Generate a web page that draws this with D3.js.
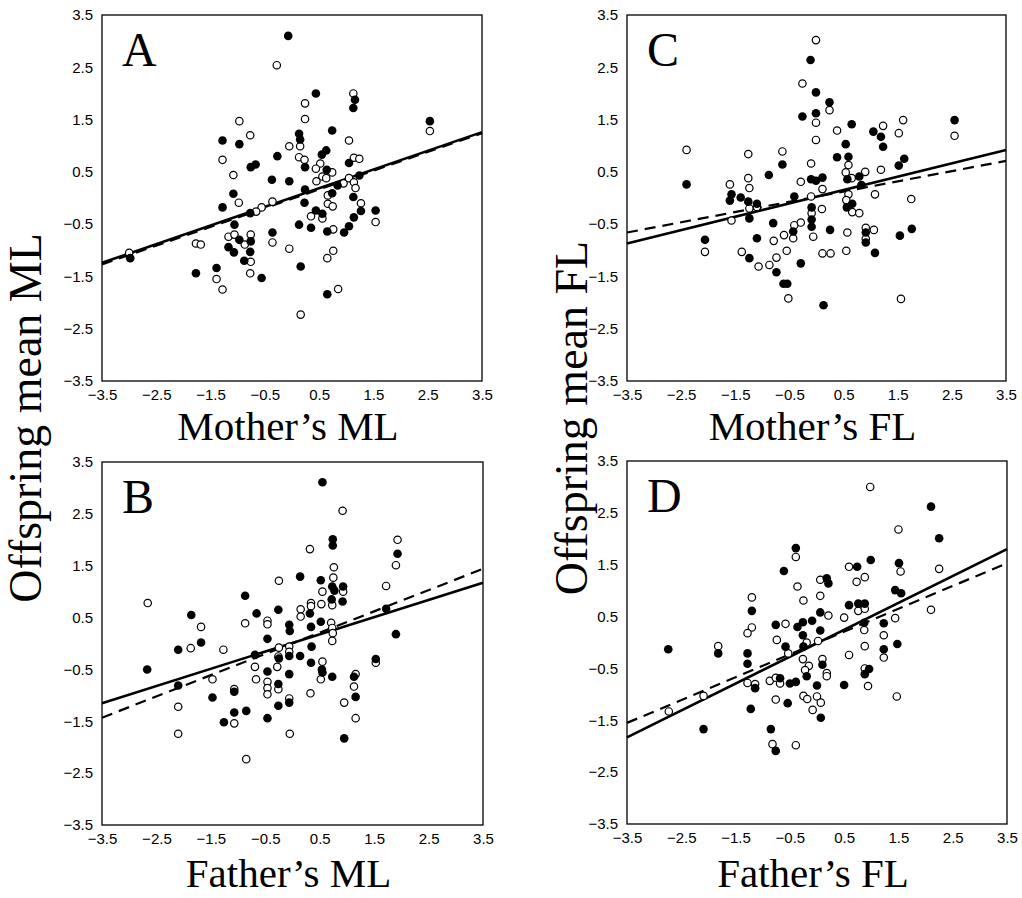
<!DOCTYPE html>
<html>
<head>
<meta charset="utf-8">
<script src="https://cdnjs.cloudflare.com/ajax/libs/d3/7.8.5/d3.min.js"></script>
<style>
  body { margin: 0; background: #fff; }
  .tick text { font-family: "Liberation Sans", Arial, sans-serif; font-size: 15px; fill: #000; }
  .title { font-family: "Liberation Serif", "Times New Roman", serif; fill: #000; }
</style>
</head>
<body>
<div id="graphic"></div>
<script>
/*** DATA ***/
var tickValues = [-3.5, -2.5, -1.5, -0.5, 0.5, 1.5, 2.5, 3.5];
var panelLetters = ["A", "B", "C", "D"];
var xTitles = ["Mother\u2019s ML", "Father\u2019s ML", "Mother\u2019s FL", "Father\u2019s FL"];
var yTitles = ["Offspring mean ML", "Offspring mean FL"];

// [parent value, offspring mean] -- filled and open circles
var aFilled = [[-0.07,3.10],[0.44,2.00],[1.16,1.88],[1.13,1.72],[2.54,1.47],[-1.28,1.10],[-0.97,1.03],[0.74,1.29],[0.13,1.23],[0.15,1.12],[0.63,0.91],[0.55,0.83],[-0.27,0.80],[-0.76,0.59],[-0.67,0.64],[0.24,0.59],[0.64,0.54],[1.05,0.67],[-0.37,0.35],[-0.05,0.32],[0.24,0.16],[0.84,0.24],[1.24,0.43],[-1.08,0.08],[0.74,0.09],[1.13,0.02],
  [-1.28,-0.18],[-0.77,-0.29],[0.23,-0.09],[0.44,-0.24],[0.56,-0.30],[1.27,-0.25],[1.54,-0.24],[1.14,-0.37],[1.05,-0.54],[0.96,-0.66],[0.65,-0.64],[0.13,-0.51],[0.35,-0.57],[-0.36,-0.66],[-1.06,-0.51],[-0.97,-0.80],[-0.76,-0.83],[-1.17,-0.94],[-1.07,-1.04],[-0.77,-1.03],[-0.88,-1.20],[0.16,-1.31],[-2.98,-1.15],[-1.77,-1.44],[-1.39,-1.34],[-0.56,-1.53],[0.65,-1.84]];
var aOpen = [[-0.28,2.54],[1.13,2.00],[0.24,1.81],[0.24,1.51],[-0.97,1.47],[2.54,1.28],[-0.77,1.20],[-0.05,0.99],[0.15,0.99],[1.05,1.10],[-1.28,0.73],[0.13,0.78],[0.23,0.73],[0.52,0.66],[0.44,0.56],[0.74,0.49],[1.14,0.77],[1.24,0.75],[-1.08,0.44],[0.45,0.32],[0.56,0.41],[0.63,0.38],[0.95,0.28],[1.05,0.38],[1.14,0.30],[1.17,0.19],[0.66,0.05],
  [-0.98,-0.09],[-0.56,-0.18],[-0.36,-0.07],[-0.66,-0.26],[0.35,-0.35],[0.56,-0.39],[0.66,-0.11],[0.75,-0.16],[1.27,-0.10],[1.54,-0.46],[0.76,-0.60],[-0.36,-0.85],[-1.17,-0.74],[-1.06,-0.70],[-0.87,-0.89],[-0.76,-0.70],[-1.77,-0.87],[-1.68,-0.89],[-0.05,-0.97],[0.76,-1.01],[0.65,-1.15],[-0.76,-1.22],[-3.0,-1.05],[-1.39,-1.55],[-1.28,-1.75],[-0.77,-1.44],[0.85,-1.74],[0.16,-2.23]];

var bFilled = [[0.55,3.11],[0.74,2.01],[0.74,1.89],[1.93,1.73],[0.14,1.29],[0.52,1.22],[0.73,1.10],[0.93,1.10],[0.77,1.02],[-0.87,0.92],[0.72,0.85],[0.92,0.81],[-0.26,0.65],[0.32,0.58],[-0.66,0.58],[1.72,0.67],[-1.86,0.55],[-0.06,0.36],[-0.05,0.24],[0.34,0.32],[0.52,0.42],[1.90,0.18],[-1.68,0.02],[-0.46,0.09],[0.35,-0.06],[-2.10,-0.12],
  [-2.67,-0.50],[-2.10,-0.81],[-1.47,-1.04],[-1.07,-0.93],[-1.07,-1.33],[-1.26,-1.52],[-0.85,-1.30],[-0.69,-0.22],[-0.46,-0.54],[-0.46,-1.44],[-0.25,-0.29],[-0.26,-0.78],[-0.26,-1.20],[-0.06,-0.24],[-0.06,-0.59],[-0.06,-1.14],[0.14,-0.24],[0.34,-0.37],[0.54,-0.50],[0.55,-0.56],[0.73,-0.64],[0.95,-1.83],[1.13,-0.64],[1.16,-1.03],[1.53,-0.30]];
var bOpen = [[0.92,2.56],[1.93,2.00],[1.90,1.51],[0.32,1.82],[0.76,1.47],[0.75,1.27],[-0.25,1.21],[1.72,1.11],[0.93,1.00],[0.55,1.00],[-2.66,0.78],[0.34,0.78],[0.53,0.76],[0.73,0.74],[0.34,0.72],[0.15,0.66],[0.15,0.52],[-1.68,0.32],[-0.87,0.39],[-0.46,0.44],[-0.46,0.37],[0.71,0.40],[0.73,0.30],[0.74,0.20],[0.73,0.05],[-0.25,-0.08],[-0.06,-0.06],[-1.87,-0.09],[-1.27,-0.12],
  [-2.10,-1.22],[-2.10,-1.74],[-1.47,-0.69],[-1.07,-0.88],[-1.07,-1.54],[-0.85,-2.23],[-0.69,-0.45],[-0.67,-0.69],[-0.46,-0.74],[-0.46,-0.86],[-0.46,-0.98],[-0.26,-0.25],[-0.28,-0.45],[-0.26,-0.88],[-0.06,-0.16],[-0.06,-1.06],[-0.05,-1.74],[0.33,-0.96],[0.55,-0.35],[0.52,-0.69],[0.95,-1.14],[1.16,-0.59],[1.13,-0.83],[1.16,-1.44],[1.53,-0.37]];

var cFilled = [[-0.11,2.64],[-0.01,2.02],[0.24,1.83],[-0.26,1.56],[-0.01,1.62],[0.65,1.41],[2.55,1.49],[1.05,1.27],[1.19,1.17],[1.23,0.98],[0.54,1.03],[-0.63,0.64],[0.38,0.78],[0.59,0.79],[1.62,0.75],[1.52,0.62],[-0.88,0.44],[-2.40,0.26],[-0.10,0.36],[-0.01,0.33],[0.11,0.39],[0.57,0.36],[0.79,0.41],[0.83,0.25],[-1.57,0.07],[-1.40,0.01],[-0.41,0.03],
  [-1.60,-0.05],[-1.26,-0.07],[-1.10,-0.11],[-1.24,-0.39],[-0.80,-0.48],[-0.43,-0.64],[-1.10,-0.77],[-2.06,-0.80],[-1.24,-1.15],[-0.74,-1.42],[-0.29,-1.25],[-0.61,-1.64],[-0.54,-1.64],[0.13,-2.05],[-0.09,-0.18],[-0.09,-0.41],[-0.09,-0.55],[0.25,-0.61],[0.56,-0.18],[0.66,-0.11],[0.91,-0.85],[0.91,-0.66],[1.08,-1.05],[1.54,-0.72],[1.76,-0.59]];
var cOpen = [[-0.01,3.02],[-0.26,2.19],[0.24,1.68],[-0.01,1.44],[1.23,1.38],[1.60,1.49],[2.55,1.19],[0.38,1.29],[1.52,1.24],[-0.01,1.11],[-2.40,0.92],[-1.26,0.84],[-0.63,0.89],[0.59,0.63],[-0.10,0.66],[1.19,0.54],[0.54,0.49],[0.90,0.50],[-1.26,0.38],[-1.60,0.26],[-0.29,0.31],[0.65,0.38],[-1.24,0.19],[0.11,0.17],[-0.10,0.03],[0.59,0.07],[1.08,0.07],[1.75,-0.02],
  [-1.10,-0.17],[-1.24,-0.20],[-1.57,-0.43],[-0.41,-0.52],[-0.29,-0.47],[-0.43,-0.77],[-0.60,-0.71],[-0.79,-0.82],[-2.06,-1.03],[-1.38,-1.03],[-1.07,-1.31],[-0.87,-1.28],[-0.74,-1.14],[-0.55,-1.01],[-0.52,-1.92],[-0.09,-0.29],[0.10,-0.21],[-0.06,-0.74],[0.11,-1.06],[0.26,-1.06],[0.55,-0.04],[0.66,-0.27],[0.79,-0.29],[0.57,-0.66],[0.55,-1.01],[0.91,-0.57],[0.91,-0.78],[1.06,-0.61],[1.56,-1.93]];

var dFilled = [[2.10,2.62],[2.25,2.01],[-0.39,1.82],[0.99,1.59],[1.51,1.53],[-0.61,1.38],[0.74,1.46],[0.18,1.24],[0.21,1.14],[1.44,1.01],[1.55,0.95],[0.59,0.72],[0.76,0.75],[0.88,0.75],[-1.20,0.61],[0.06,0.58],[-0.76,0.34],[-0.36,0.30],[-0.26,0.39],[-0.09,0.42],[0.06,0.23],[0.87,0.38],[1.23,0.37],[-0.26,0.14],[-0.25,-0.08],[-0.58,-0.08],[1.48,-0.03],[1.23,-0.13],[-2.74,-0.13],
  [-1.82,-0.21],[-1.28,-0.21],[-1.28,-0.41],[-1.14,-0.88],[-1.22,-1.28],[-2.09,-1.67],[-0.19,-0.65],[0.10,-0.43],[0.96,-0.51],[0.88,-0.61],[0.50,-0.82],[-0.68,-0.69],[-0.50,-0.79],[-0.39,-0.76],[0.0,-0.83],[-0.54,-1.17],[0.07,-1.45],[-0.85,-1.67],[-0.76,-2.09]];
var dOpen = [[0.98,3.0],[1.50,2.18],[-0.39,1.65],[1.54,1.37],[2.25,1.42],[0.59,1.46],[0.88,1.26],[0.73,1.17],[0.06,1.21],[-0.36,1.08],[0.06,0.90],[-1.20,0.87],[-0.25,0.81],[0.76,0.61],[0.88,0.65],[0.21,0.52],[0.50,0.48],[2.10,0.63],[1.44,0.47],[-0.58,0.36],[0.87,0.24],[1.23,0.14],[-1.20,0.29],[-1.28,0.18],[-0.74,0.05],[0.02,0.03],[-0.19,0.0],[0.88,-0.07],[-1.82,-0.07],
  [-1.28,-0.78],[-1.14,-0.80],[-2.09,-1.03],[-2.73,-1.33],[-0.53,-0.21],[-0.26,-0.32],[-0.15,-0.45],[-0.22,-0.53],[0.10,-0.32],[0.18,-0.59],[0.18,-0.65],[0.59,-0.24],[1.23,-0.29],[0.88,-0.50],[0.94,-0.84],[1.47,-1.04],[-0.87,-0.74],[-0.76,-0.68],[-0.68,-0.79],[-0.76,-1.10],[-0.25,-1.03],[-0.18,-1.09],[0.0,-1.04],[0.07,-1.16],[-0.08,-1.30],[-0.82,-1.96],[-0.39,-1.98]];

// regression lines, value at x = -3.5 and x = 3.5
var aSolid = [[-3.5,-1.24],[3.5,1.26]], aDashed = [[-3.5,-1.27],[3.5,1.24]];
var bSolid = [[-3.5,-1.15],[3.5,1.17]], bDashed = [[-3.5,-1.43],[3.5,1.44]];
var cSolid = [[-3.5,-0.87],[3.5,0.92]], cDashed = [[-3.5,-0.66],[3.5,0.71]];
var dSolid = [[-3.5,-1.83],[3.5,1.80]], dDashed = [[-3.5,-1.55],[3.5,1.53]];

/*** LAYOUT ***/
var width = 1022, height = 898;
var svg = d3.select("#graphic")
  .append("svg")
  .attr("width", width)
  .attr("height", height);

var panels = [
  { letter: panelLetters[0], left: 102, top: 15, w: 380, h: 366, filled: aFilled, open: aOpen, solid: aSolid, dashed: aDashed, xTitle: xTitles[0], titleY: 440 },
  { letter: panelLetters[1], left: 102, top: 462, w: 381, h: 363, filled: bFilled, open: bOpen, solid: bSolid, dashed: bDashed, xTitle: xTitles[1], titleY: 887 },
  { letter: panelLetters[2], left: 627, top: 15, w: 379, h: 366, filled: cFilled, open: cOpen, solid: cSolid, dashed: cDashed, xTitle: xTitles[2], titleY: 440 },
  { letter: panelLetters[3], left: 627, top: 461, w: 380, h: 363, filled: dFilled, open: dOpen, solid: dSolid, dashed: dDashed, xTitle: xTitles[3], titleY: 887 }
];

panels.forEach(function(p) {
  var x = d3.scaleLinear().domain([-3.5, 3.5]).range([0, p.w]);
  var y = d3.scaleLinear().domain([-3.5, 3.5]).range([p.h, 0]);

  var g = svg.append("g")
    .attr("transform", "translate(" + p.left + "," + p.top + ")");

  /*** AXES (labels only) ***/
  g.append("g")
    .call(d3.axisLeft(y).tickValues(tickValues).tickSize(0).tickPadding(9).tickFormat(d3.format(".1f")))
    .call(function(s) { s.select(".domain").remove(); });

  g.append("g")
    .attr("transform", "translate(0," + p.h + ")")
    .call(d3.axisBottom(x).tickValues(tickValues).tickSize(0).tickPadding(8).tickFormat(d3.format(".1f")))
    .call(function(s) { s.select(".domain").remove(); });

  /*** FRAME ***/
  g.append("rect")
    .attr("width", p.w)
    .attr("height", p.h)
    .attr("fill", "none")
    .attr("stroke", "#000")
    .attr("stroke-width", 1.3);

  /*** REGRESSION LINES ***/
  var line = d3.line()
    .x(function(d) { return x(d[0]); })
    .y(function(d) { return y(d[1]); });

  g.append("path")
    .attr("d", line(p.dashed))
    .attr("fill", "none")
    .attr("stroke", "#000")
    .attr("stroke-width", 2.2)
    .attr("stroke-dasharray", "11,7");

  g.append("path")
    .attr("d", line(p.solid))
    .attr("fill", "none")
    .attr("stroke", "#000")
    .attr("stroke-width", 2.6);

  /*** POINTS ***/
  g.selectAll(".open")
    .data(p.open).enter().append("circle")
    .attr("class", "open")
    .attr("cx", function(d) { return x(d[0]); })
    .attr("cy", function(d) { return y(d[1]); })
    .attr("r", 3.7)
    .attr("fill", "#fff")
    .attr("stroke", "#000")
    .attr("stroke-width", 1.2);

  g.selectAll(".filled")
    .data(p.filled).enter().append("circle")
    .attr("class", "filled")
    .attr("cx", function(d) { return x(d[0]); })
    .attr("cy", function(d) { return y(d[1]); })
    .attr("r", 4.3)
    .attr("fill", "#000");

  /*** PANEL LETTER ***/
  g.append("text")
    .attr("class", "title")
    .attr("x", 20)
    .attr("y", 51)
    .style("font-size", "48px")
    .text(p.letter);

  /*** X TITLE ***/
  svg.append("text")
    .attr("class", "title")
    .attr("x", p.left + p.w / 2 - 4)
    .attr("y", p.titleY)
    .attr("text-anchor", "middle")
    .style("font-size", "41px")
    .text(p.xTitle);
});

/*** Y TITLES ***/
svg.append("text")
  .attr("class", "title")
  .attr("transform", "translate(41,418) rotate(-90)")
  .attr("text-anchor", "middle")
  .style("font-size", "46px")
  .text(yTitles[0]);

svg.append("text")
  .attr("class", "title")
  .attr("transform", "translate(587,418) rotate(-90)")
  .attr("text-anchor", "middle")
  .style("font-size", "46px")
  .text(yTitles[1]);
</script>
</body>
</html>
